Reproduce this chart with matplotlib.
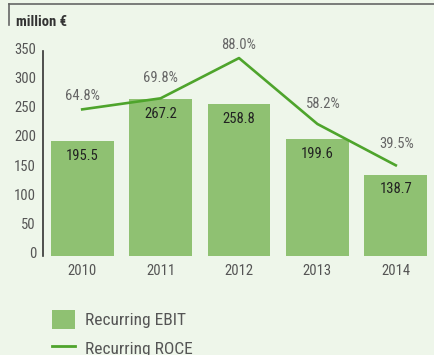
import matplotlib
matplotlib.use("Agg")
import matplotlib.pyplot as plt
import matplotlib.transforms as mtransforms
from matplotlib.patches import Patch
from matplotlib.lines import Line2D

years = ["2010", "2011", "2012", "2013", "2014"]
ebit = [195.5, 267.2, 258.8, 199.6, 138.7]
roce = [64.8, 69.8, 88.0, 58.2, 39.5]
yticks = [0, 50, 100, 150, 200, 250, 300, 350]

# label nudges in pixels for the ROCE percentages
roce_dx = [0, 0, 0, 6, 1]
roce_dy = [13, 20, 13, 20, 21]

bg = "#eef6ea"
bar_col = "#8fc172"
line_col = "#4ea42c"
txt = "#555555"

plt.rcParams["font.family"] = ["Roboto Condensed", "DejaVu Sans"]

fig = plt.figure(figsize=(4.35, 3.55), dpi=100, facecolor=bg)
W, H = 435, 355
ax = fig.add_axes([43 / W, (H - 256) / H, 392 / W, 205 / H])
ax.set_facecolor(bg)

x = list(range(len(years)))
ax.bar(x, ebit, width=0.8, color=bar_col, zorder=2)
ax.set_xlim(-0.5, 4.5)
ax.set_ylim(0, 350)
ax.set_yticks(yticks)
ax.set_xticks(x)
ax.set_xticklabels(years)
ax.tick_params(axis="y", length=0, pad=5, labelsize=10.5, labelcolor=txt)
ax.tick_params(axis="x", length=0, pad=6, labelsize=10.5, labelcolor=txt)
# y labels sit a touch above their values
lift = mtransforms.ScaledTranslation(0, 3 / 100, fig.dpi_scale_trans)
for lab in ax.get_yticklabels():
    lab.set_transform(lab.get_transform() + lift)
for s in ["top", "right", "bottom"]:
    ax.spines[s].set_visible(False)
ax.spines["left"].set_color("#333333")
ax.spines["left"].set_linewidth(1.2)

for xi, v in zip(x, ebit):
    ax.annotate(f"{v:.1f}", (xi, v), xytext=(0, -10.5), textcoords="offset points",
                ha="center", va="center", fontsize=10.5, color="#222222", zorder=4)

# ROCE on a hidden secondary scale
ax2 = ax.twinx()
ax2.set_ylim(-1.5, 91.2)
ax2.axis("off")
ax2.plot(x, roce, color=line_col, lw=1.9, zorder=3)
for xi, v, dx, dy in zip(x, roce, roce_dx, roce_dy):
    ax2.annotate(f"{v:.1f}%", (xi, v), xytext=(dx * 0.72, dy * 0.72), textcoords="offset points",
                 ha="center", va="center", fontsize=10.5, color="#666666")

# header frame and unit label
fig.add_artist(Line2D([9 / W, 1], [1 - 4 / H, 1 - 4 / H], color="#666666", lw=1.2))
fig.add_artist(Line2D([9 / W, 9 / W], [1 - 4 / H, 1 - 25 / H], color="#666666", lw=1.2))
fig.text(16 / W, 1 - 22 / H, "million €", fontsize=10.5, fontweight="bold",
         color="#333333", va="center", ha="left")

handles = [Patch(facecolor=bar_col, edgecolor="none"),
           Line2D([0], [0], color=line_col, lw=2.0)]
fig.legend(handles, ["Recurring EBIT", "Recurring ROCE"], loc="upper left",
           bbox_to_anchor=(52 / W, 1 - 310 / H), frameon=False, fontsize=12.5,
           labelcolor=txt, handlelength=1.32, handleheight=1.32, handletextpad=0.57,
           labelspacing=0.55, borderpad=0, borderaxespad=0)

fig.savefig("out.png", dpi=100, facecolor=bg)
